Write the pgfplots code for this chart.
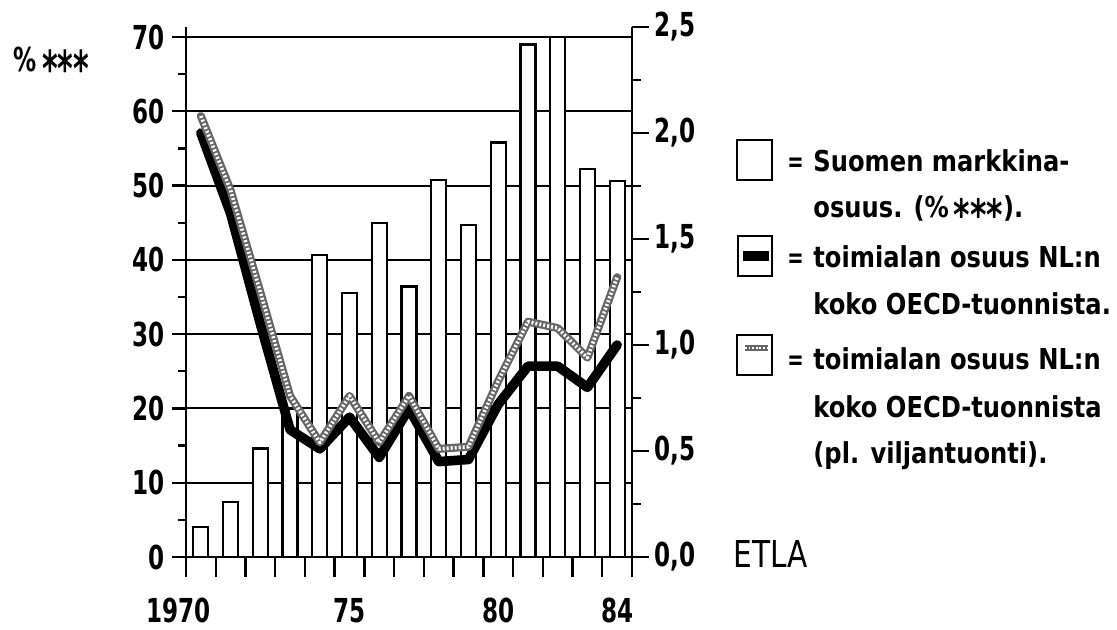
\documentclass[border=0pt]{standalone}
\usepackage{fontspec}
\setmainfont[FakeStretch=0.84]{DejaVu Sans}
\newfontfamily\tickfont[FakeStretch=0.70]{DejaVu Sans}
\newfontfamily\etlafont[FakeStretch=0.80]{DejaVu Sans}
\usepackage{graphicx}
\usepackage{pgfplots}
\pgfplotsset{compat=1.18}
\newcommand\tf{\tickfont\bfseries\fontsize{16.5}{18}\selectfont}
\newcommand\lf{\bfseries\fontsize{14.4}{16}\selectfont}
\newcommand\stars{\raisebox{-0.43em}{\scalebox{1.3}[1.5]{***}}}

\pgfplotstableread{
year share
1970 4
1971 7.4
1972 14.6
1973 20
1974 40.6
1975 35.5
1976 45
1977 36.4
1978 50.8
1979 44.7
1980 55.8
1981 69
1982 70
1983 52.2
1984 50.6
}\markkina

\pgfplotstableread{
year total excl
1970 2.00 2.08
1971 1.62 1.73
1972 1.10 1.25
1973 0.60 0.76
1974 0.51 0.54
1975 0.66 0.76
1976 0.47 0.54
1977 0.70 0.76
1978 0.45 0.51
1979 0.46 0.52
1980 0.72 0.83
1981 0.90 1.11
1982 0.90 1.08
1983 0.80 0.94
1984 1.00 1.32
}\osuus

\begin{document}
\begin{tikzpicture}
% helper scope in image pixel units (origin top-left)
\begin{scope}[shift={(-93pt,278.5pt)}, x=0.5pt, y=-0.5pt]
\path[use as bounding box] (0,0) rectangle (1117,629);
% top-left unit label
\node[anchor=base west, inner sep=0pt, font=\tf] at (13,72) {\%\,\stars};
% ETLA
\node[anchor=base west, inner sep=0pt, font=\etlafont\fontsize{18.5}{20}\selectfont] at (733,567) {ETLA};
% legend keys
\draw[line width=1.2pt] (737,140) rectangle (772,180);
\draw[line width=1.2pt] (738,236) rectangle (772,276);
\draw[line width=5pt] (743,256) -- (769,256);
\draw[line width=1.2pt] (737,335) rectangle (772,375);
\draw[line width=3pt, black!60] (745,348) -- (768,348);
\draw[line width=1.3pt, white, dash pattern=on 0.9pt off 0.9pt] (745,348) -- (768,348);
% legend texts
\foreach \yy in {172,268,370} {\node[anchor=base west, inner sep=0pt, font=\tickfont\bfseries\fontsize{14}{16}\selectfont] at (787,\yy) {=};}
\node[anchor=base west, inner sep=0pt, font=\lf] at (813,172) {Suomen markkina-};
\node[anchor=base west, inner sep=0pt, font=\lf] at (813,218) {osuus. (\%\,\stars).};
\node[anchor=base west, inner sep=0pt, font=\lf] at (813,268) {toimialan osuus NL:n};
\node[anchor=base west, inner sep=0pt, font=\lf] at (813,315) {koko OECD-tuonnista.};
\node[anchor=base west, inner sep=0pt, font=\lf] at (813,370) {toimialan osuus NL:n};
\node[anchor=base west, inner sep=0pt, font=\lf] at (813,417) {koko OECD-tuonnista};
\node[anchor=base west, inner sep=0pt, font=\lf] at (813,463) {(pl. viljantuonti).};
\end{scope}

% left axis: bars + grid
\begin{axis}[
  scale only axis, width=223pt, height=265pt,
  xmin=1969.5, xmax=1984.5, ymin=0, ymax=71.346,
  axis x line*=bottom, axis y line*=left,
  axis line style={-, line width=1.2pt},
  xtick=\empty,
  ytick={0,10,20,30,40,50,60,70},
  yticklabels={0,10,20,30,40,50,60,70},
  minor ytick={5,15,25,35,45,55,65},
  ymajorgrids, major grid style={line width=1pt, black},
  tick align=outside, major tick length=7pt, minor tick length=4pt,
  tick style={line width=1.2pt, black},
  yticklabel style={font=\tf, inner xsep=3.5pt},
]
\addplot[ybar, bar width=7.5pt, fill=white, draw=black, line width=1.1pt] table[x=year, y=share] {\markkina};
\end{axis}

% right axis: lines
\begin{axis}[
  scale only axis, width=223pt, height=265pt,
  xmin=1969.5, xmax=1984.5, ymin=0, ymax=2.5,
  axis x line=none, axis y line*=right,
  axis line style={-, line width=1.2pt},
  ytick={0,0.5,1,1.5,2,2.5},
  yticklabels={{0,0},{0,5},{1,0},{1,5},{2,0},{2,5}},
  minor ytick={0.25,0.75,1.25,1.75,2.25},
  tick align=outside, major tick length=8.5pt, minor tick length=4.5pt,
  tick style={line width=1.2pt, black},
  yticklabel style={font=\tf, inner xsep=2.5pt},
]
\addplot[black, line width=4.8pt, line join=round, line cap=round] table[x=year, y=total] {\osuus};
\addplot[black!60, line width=4pt, line join=round, line cap=round] table[x=year, y=excl] {\osuus};
\addplot[white, line width=1.8pt, line join=round, dash pattern=on 1pt off 1pt] table[x=year, y=excl] {\osuus};
\end{axis}

% x axis: boundary ticks and year labels
\begin{axis}[
  scale only axis, width=223pt, height=265pt,
  xmin=1969.5, xmax=1984.5, ymin=0, ymax=1,
  axis y line=none, axis x line*=bottom,
  axis line style={-, line width=1.2pt},
  xtick={1975,1980,1984}, xticklabels={75,80,84},
  extra x ticks={1970}, extra x tick labels={1970},
  extra x tick style={tick label style={xshift=-11pt}},
  minor xtick={1969.5,1970.5,1971.5,1972.5,1973.5,1974.5,1975.5,1976.5,1977.5,1978.5,1979.5,1980.5,1981.5,1982.5,1983.5,1984.5},
  tick align=outside, major tick length=0pt, minor tick length=10pt,
  tick style={line width=1.2pt, black},
  xticklabel style={font=\tf, anchor=base, yshift=-32.5pt},
]
\end{axis}
\end{tikzpicture}
\end{document}
